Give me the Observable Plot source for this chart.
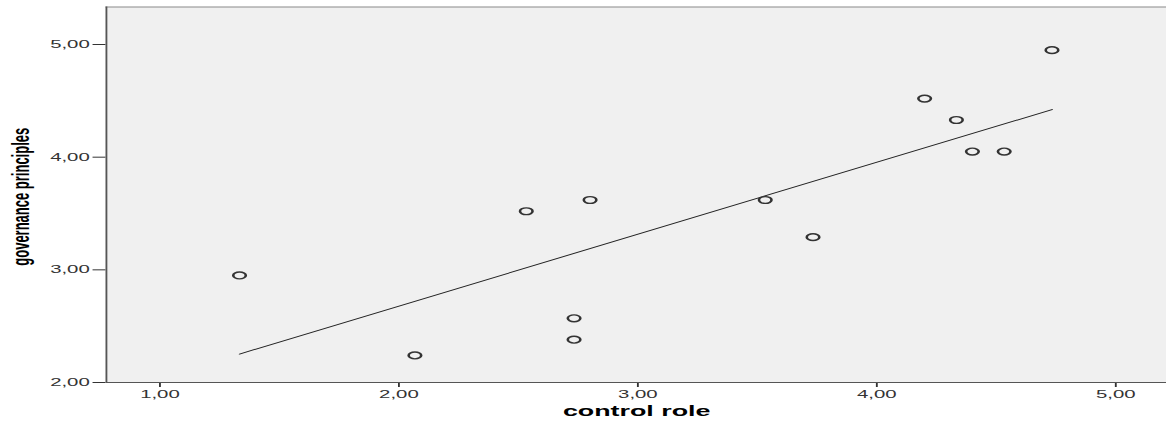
<!DOCTYPE html>
<html>
<head>
<meta charset="utf-8">
<script src="https://cdn.jsdelivr.net/npm/d3@7"></script>
<script src="https://cdn.jsdelivr.net/npm/@observablehq/plot@0.6"></script>
<style>
  html, body { margin: 0; padding: 0; background: #fff; }
  #wrap { width: 1166px; height: 423px; overflow: hidden; }
  #wrap svg { transform-origin: 0 0; transform: scaleX(1.8508); display: block; }
</style>
</head>
<body>
<div id="wrap"></div>
<script>
const controlRole = [1.333, 2.067, 2.533, 2.733, 2.733, 2.800, 3.533, 3.733, 4.200, 4.333, 4.400, 4.533, 4.733];
const governancePrinciples = [2.95, 2.24, 3.52, 2.57, 2.38, 3.62, 3.62, 3.29, 4.52, 4.33, 4.05, 4.05, 4.95];
const xTicks = [1, 2, 3, 4, 5];
const yTicks = [2, 3, 4, 5];
const xTitle = "control role";
const yTitle = "governance principles";

const data = controlRole.map((x, i) => ({x, y: governancePrinciples[i]}));
const xDomain = [0.776, 5.214];
const yDomain = [2, 5.333];
const fmt = d => d.toFixed(2).replace(".", ",");

const chart = Plot.plot({
  width: 630,
  height: 423,
  marginLeft: 57,
  marginRight: 0,
  marginTop: 6.5,
  marginBottom: 41,
  style: {fontFamily: "'Liberation Sans', Arial, sans-serif", fontSize: "11px", color: "#333", background: "#fff"},
  x: {domain: xDomain, ticks: xTicks, tickFormat: fmt, tickSize: 5, tickPadding: 3, label: null},
  y: {domain: yDomain, ticks: yTicks, tickFormat: fmt, tickSize: 7, tickPadding: 2, label: null},
  marks: [
    Plot.frame({fill: "#f0f0f0", stroke: null}),
    Plot.ruleY([yDomain[1]], {stroke: "#8a8a8a", strokeWidth: 1}),
    Plot.ruleY([yDomain[0]], {stroke: "#555", strokeWidth: 1}),
    Plot.ruleX([xDomain[0]], {stroke: "#555", strokeWidth: 1}),
    Plot.linearRegressionY(data, {x: "x", y: "y", ci: 0, stroke: "#222", strokeWidth: 0.9}),
    Plot.dot(data, {x: "x", y: "y", r: 3.4, stroke: "#333", strokeWidth: 1.4, fill: "none"}),
    Plot.text([xTitle], {frameAnchor: "bottom", dy: 33, text: d => d, fontWeight: "bold", fontSize: 14.5, fill: "#000", textAnchor: "middle"}),
    Plot.text([yTitle], {frameAnchor: "left", dx: -46, dy: 2, rotate: -90, text: d => d, fontWeight: "bold", fontSize: 13, fill: "#000", textAnchor: "middle"})
  ]
});
document.getElementById("wrap").appendChild(chart);
</script>
</body>
</html>
